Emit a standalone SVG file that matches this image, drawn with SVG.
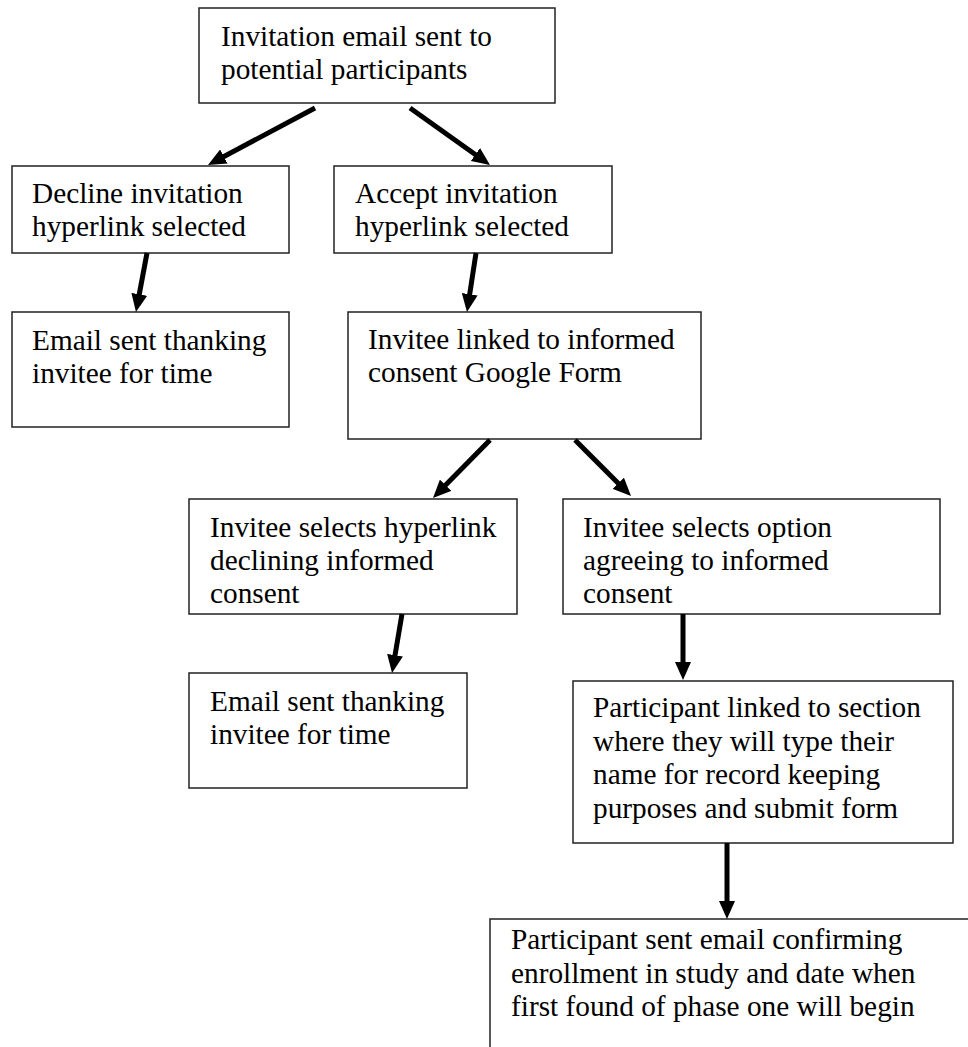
<svg xmlns="http://www.w3.org/2000/svg" width="968" height="1047" viewBox="0 0 968 1047">
<style>
.box{fill:#fff;stroke:#222;stroke-width:1.5}
.t{font-family:"Liberation Serif","Times New Roman",serif;font-size:29.3px;fill:#000}
.arr{stroke:#000;stroke-width:5;fill:none}
</style>
<defs>
<marker id="ah" markerUnits="userSpaceOnUse" markerWidth="18" markerHeight="16" viewBox="0 0 18 16" refX="2" refY="8" orient="auto">
<path d="M0,0 L18,8 L0,16 z" fill="#000"/>
</marker>
</defs>
<rect width="968" height="1047" fill="#fff"/>
<g id="n1"><rect class="box" x="199" y="8" width="356" height="95"/>
<text class="t" x="221" y="46">Invitation email sent to</text>
<text class="t" x="221" y="79">potential participants</text></g>
<g id="n2"><rect class="box" x="12" y="166" width="277" height="87"/>
<text class="t" x="32" y="203">Decline invitation</text>
<text class="t" x="32" y="236">hyperlink selected</text></g>
<g id="n3"><rect class="box" x="334" y="166" width="278" height="87"/>
<text class="t" x="355" y="203">Accept invitation</text>
<text class="t" x="355" y="236">hyperlink selected</text></g>
<g id="n4"><rect class="box" x="12" y="312" width="277" height="115"/>
<text class="t" x="32" y="350">Email sent thanking</text>
<text class="t" x="32" y="383">invitee for time</text></g>
<g id="n5"><rect class="box" x="348" y="312" width="353" height="127"/>
<text class="t" x="368" y="349">Invitee linked to informed</text>
<text class="t" x="368" y="382">consent Google Form</text></g>
<g id="n6"><rect class="box" x="189" y="499" width="328" height="115"/>
<text class="t" x="210" y="537">Invitee selects hyperlink</text>
<text class="t" x="210" y="570">declining informed</text>
<text class="t" x="210" y="603">consent</text></g>
<g id="n7"><rect class="box" x="563" y="499" width="377" height="115"/>
<text class="t" x="583" y="537">Invitee selects option</text>
<text class="t" x="583" y="570">agreeing to informed</text>
<text class="t" x="583" y="603">consent</text></g>
<g id="n8"><rect class="box" x="189" y="673" width="278" height="115"/>
<text class="t" x="210" y="711">Email sent thanking</text>
<text class="t" x="210" y="744">invitee for time</text></g>
<g id="n9"><rect class="box" x="573" y="681" width="380" height="162"/>
<text class="t" x="593" y="717">Participant linked to section</text>
<text class="t" x="593" y="751">where they will type their</text>
<text class="t" x="593" y="784">name for record keeping</text>
<text class="t" x="593" y="818">purposes and submit form</text></g>
<g id="n10"><rect class="box" x="490" y="919" width="500" height="200"/>
<text class="t" x="511" y="949">Participant sent email confirming</text>
<text class="t" x="511" y="983">enrollment in study and date when</text>
<text class="t" x="511" y="1016">first found of phase one will begin</text></g>
<g id="connectors">
<line class="arr" x1="315" y1="108" x2="222.1" y2="157.5" marker-end="url(#ah)"/>
<line class="arr" x1="410" y1="108" x2="477" y2="155.7" marker-end="url(#ah)"/>
<line class="arr" x1="147" y1="253" x2="138.9" y2="296.3" marker-end="url(#ah)"/>
<line class="arr" x1="476" y1="253" x2="469.4" y2="296.2" marker-end="url(#ah)"/>
<line class="arr" x1="490" y1="440" x2="444.2" y2="486.6" marker-end="url(#ah)"/>
<line class="arr" x1="575" y1="440" x2="619.7" y2="484.7" marker-end="url(#ah)"/>
<line class="arr" x1="402" y1="614" x2="394.7" y2="657.2" marker-end="url(#ah)"/>
<line class="arr" x1="683" y1="614" x2="683" y2="664" marker-end="url(#ah)"/>
<line class="arr" x1="727" y1="843" x2="727" y2="903" marker-end="url(#ah)"/>
</g>
</svg>
